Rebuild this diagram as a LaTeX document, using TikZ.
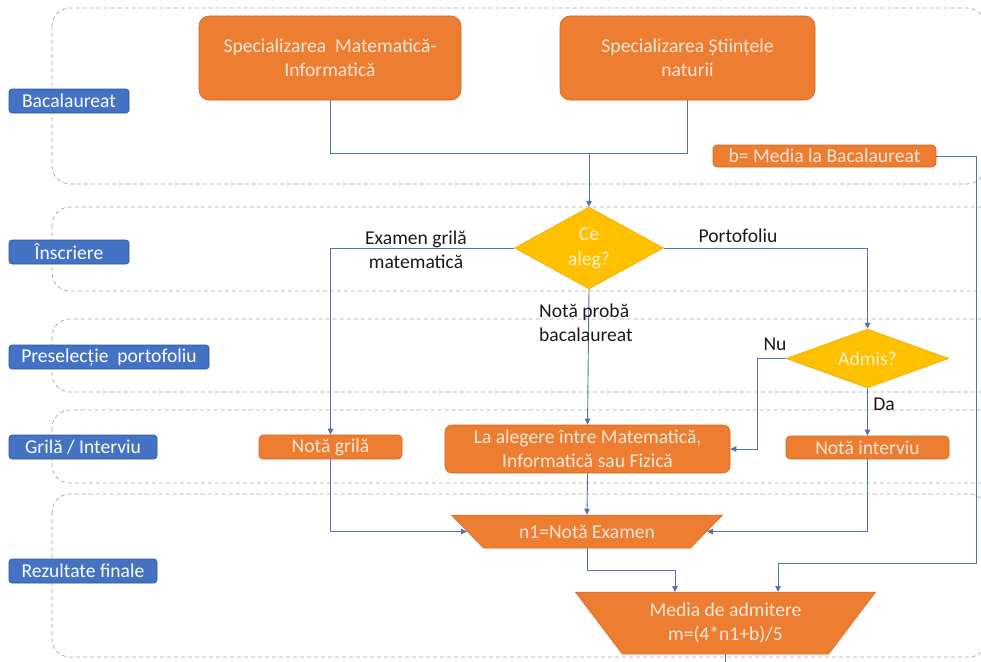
\documentclass[tikz,border=0pt]{standalone}
\usepackage{fontspec}
\setmainfont{Carlito}
\usetikzlibrary{shapes.geometric,arrows.meta}
\definecolor{orangeF}{HTML}{ED7D31}
\definecolor{orangeB}{HTML}{D0661F}
\definecolor{blueF}{HTML}{4472C4}
\definecolor{blueB}{HTML}{2F5597}
\definecolor{yellowF}{HTML}{FFC000}
\definecolor{yellowB}{HTML}{E5AC00}
\definecolor{connC}{HTML}{5473AB}
\definecolor{laneC}{HTML}{A6A6A6}
\definecolor{creamT}{HTML}{FCE8DA}
\definecolor{lightY}{HTML}{FFF2CC}
\definecolor{labT}{HTML}{1A1A1A}
\tikzset{
  x=1pt, y=-1pt,
  lane/.style={draw=laneC, dashed, dash pattern=on 4pt off 3pt, line width=0.7pt, rounded corners=18pt},
  lanelbl/.style={fill=blueF, draw=blueB, line width=0.6pt, rounded corners=3pt, text=white,
    font=\fontsize{19.6}{23}\selectfont, inner sep=0pt, minimum height=24pt},
  obox/.style={fill=orangeF, draw=orangeB, line width=0.6pt, rounded corners=4pt, text=creamT,
    font=\fontsize{19.6}{24.5}\selectfont, inner sep=0pt, align=center},
  dec/.style={diamond, fill=yellowF, draw=yellowB, line width=0.5pt, text=lightY,
    font=\fontsize{19.6}{24.5}\selectfont, inner sep=0pt, align=center, aspect=1.8},
  trap/.style={trapezium, shape border rotate=180, trapezium stretches=true, fill=orangeF,
    draw=orangeB, line width=0.5pt, text=creamT, font=\fontsize{19.6}{24.5}\selectfont,
    inner sep=0pt, align=center},
  conn/.style={draw=connC, line width=0.9pt},
  arr/.style={conn, -{Triangle[length=6pt,width=5.5pt]}},
  clbl/.style={text=labT, font=\fontsize{19.6}{24}\selectfont, inner sep=0pt},
}
\begin{document}
\begin{tikzpicture}
\useasboundingbox (0,0) rectangle (981,661);
% lanes
\draw[lane] (52,8) rectangle (985,184);
\draw[lane] (52,207) rectangle (1010,291);
\draw[lane] (52,319) rectangle (1010,392);
\draw[lane] (52,410) rectangle (1010,483);
\draw[lane] (52,494) rectangle (987,657);
% lane labels
\node[lanelbl, minimum width=120pt] (lb1) at (69,101) {Bacalaureat};
\node[lanelbl, minimum width=120pt] (lb2) at (69,252) {Înscriere};
\node[lanelbl, minimum width=200pt] (lb3) at (109,357) {Preselecție\ \ portofoliu};
\node[lanelbl, minimum width=148pt] (lb4) at (83,447) {Grilă / Interviu};
\node[lanelbl, minimum width=148pt] (lb5) at (83,571) {Rezultate finale};
% boxes
\node[obox, rounded corners=10pt, minimum width=262pt, minimum height=84pt] (matinfo) at (330,58) {Specializarea\ \ Matematică-\\Informatică};
\node[obox, rounded corners=10pt, minimum width=255pt, minimum height=84pt] (stiinte) at (687.5,58) {Specializarea Științele\\naturii};
\node[obox, minimum width=223pt, minimum height=22pt] (bmedia) at (824.5,156) {b= Media la Bacalaureat};
\node[dec, minimum width=149pt, minimum height=82pt] (cealeg) at (589,248) {\raisebox{-4pt}{\begin{tabular}{@{}c@{}}Ce\\aleg?\end{tabular}}};
\node[dec, minimum width=163pt, minimum height=59pt] (admis) at (867.5,358.5) {Admis?};
\node[obox, minimum width=143pt, minimum height=24pt] (notagrila) at (330.5,447) {Notă grilă};
\node[obox, rounded corners=7pt, minimum width=285pt, minimum height=48pt] (alegere) at (587.5,449) {La alegere între Matematică,\\Informatică sau Fizică};
\node[obox, minimum width=163pt, minimum height=23pt] (notainterviu) at (867.5,447.5) {Notă interviu};
\node[trap, trapezium angle=32.4, minimum width=272pt, minimum height=33pt] (n1) at (587,531.5) {n1=Notă Examen};
\node[trap, trapezium angle=49.8, minimum width=301pt, minimum height=62pt] (media) at (725.5,623) {Media de admitere\\m=(4*n1+b)/5};
% helper coordinates
\coordinate (join) at (589,153);
\coordinate (m1) at (675,592);
\coordinate (m2) at (778,592);
\coordinate (rc) at (976,563);
\coordinate (mbot) at (725.5,664);
% connectors
\draw[conn] (matinfo.south) |- (join);
\draw[conn] (stiinte.south) |- (join);
\draw[arr] (join) -- (cealeg.north);
\draw[arr] (cealeg.west) -| (notagrila.north);
\draw[arr] (cealeg.east) -| (admis.north);
\draw[arr] (cealeg.south) -- (alegere.north);
\draw[arr] (admis.west) -- ++(-28,0) |- (alegere.east);
\draw[arr] (admis.south) -- (notainterviu.north);
\draw[arr] (notagrila.south) |- (n1.west);
\draw[arr] (notainterviu.south) |- (n1.east);
\draw[arr] (alegere.south) -- (n1.north);
\draw[arr] (n1.south) -- ++(0,22) -| (m1);
\draw[arr] (bmedia.east) -| (rc) -| (m2);
\draw[conn] (media.south) -- (mbot);
% connector labels
\node[clbl, align=center] (lexam) at (416,250) {Examen grilă\\matematică};
\node[clbl] (lport) at (738,236) {Portofoliu};
\node[clbl, align=left, anchor=west] (lnota) at (539,323) {Notă probă\\bacalaureat};
\node[clbl] (lnu) at (775,344) {Nu};
\node[clbl] (lda) at (884,404) {Da};
\end{tikzpicture}
\end{document}
